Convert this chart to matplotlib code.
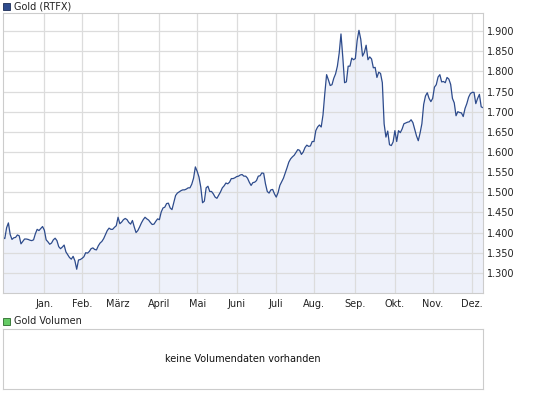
import matplotlib
matplotlib.use("Agg")
import matplotlib.pyplot as plt
from matplotlib.patches import Rectangle
from matplotlib.ticker import FuncFormatter
import numpy as np
import pandas as pd

# Goldpreis in USD, ein Wert pro Handelstag (01.12.2010 - 09.12.2011)
gold = [
    # Dez 2010
    1388, 1385, 1412, 1424, 1395, 1383, 1387, 1388, 1394, 1392, 1372, 1378,
    1384, 1384, 1383, 1381, 1380, 1382, 1397, 1408, 1405, 1410, 1415,
    # Jan
    1406, 1382, 1377, 1371, 1374, 1382, 1386, 1380, 1365, 1360, 1364, 1369,
    1352, 1345, 1338, 1334, 1341, 1330, 1309, 1332, 1333,
    # Feb
    1336, 1340, 1350, 1349, 1353, 1360, 1362, 1358, 1357, 1367, 1374, 1378,
    1385, 1395, 1405, 1411, 1408, 1408, 1413, 1417,
    # Maerz
    1438, 1422, 1426, 1432, 1435, 1432, 1425, 1421, 1430, 1414, 1400, 1405,
    1414, 1424, 1432, 1438, 1434, 1431, 1425, 1420, 1421, 1428, 1434,
    # April
    1432, 1451, 1461, 1463, 1472, 1473, 1461, 1457, 1474, 1492, 1498, 1501,
    1504, 1506, 1506, 1508, 1511, 1511, 1520, 1535, 1563,
    # Mai
    1552, 1538, 1513, 1474, 1478, 1511, 1515, 1502, 1502, 1496, 1488, 1485,
    1493, 1501, 1511, 1516, 1523, 1521, 1525, 1534, 1534, 1536,
    # Juni
    1539, 1540, 1543, 1544, 1540, 1540, 1535, 1525, 1517, 1524, 1525, 1529,
    1540, 1541, 1548, 1547, 1521, 1502, 1498, 1506, 1507, 1496,
    # Juli
    1488, 1499, 1517, 1526, 1535, 1548, 1561, 1575, 1583, 1588, 1592, 1599,
    1606, 1604, 1594, 1600, 1611, 1617, 1614, 1615, 1626,
    # Aug
    1626, 1653, 1662, 1667, 1662, 1692, 1745, 1792, 1779, 1765, 1767, 1783,
    1794, 1813, 1845, 1893, 1836, 1772, 1774, 1813, 1813, 1833, 1829,
    # Sep
    1832, 1877, 1902, 1880, 1838, 1847, 1865, 1829, 1836, 1831, 1809, 1810,
    1785, 1798, 1795, 1772, 1670, 1637, 1652, 1618, 1616, 1625,
    # Okt
    1653, 1626, 1653, 1648, 1657, 1670, 1672, 1674, 1675, 1680, 1673, 1657,
    1640, 1628, 1647, 1670, 1718, 1739, 1747, 1733, 1725,
    # Nov
    1733, 1761, 1767, 1786, 1792, 1774, 1775, 1772, 1785, 1781, 1768, 1733,
    1722, 1690, 1700, 1698, 1697, 1688, 1708, 1720, 1736, 1745,
    # Dez 2011
    1748, 1748, 1720, 1733, 1743, 1712, 1710,
]
dates = pd.bdate_range("2010-12-01", "2011-12-09")
month_labels = ["Jan.", "Feb.", "März", "April", "Mai", "Juni", "Juli",
                "Aug.", "Sep.", "Okt.", "Nov.", "Dez."]
yticks = np.arange(1300, 1901, 50)

x = np.arange(len(gold))
month_start = [i for i in range(1, len(dates)) if dates[i].month != dates[i - 1].month]

W, H = 545, 398
def box(l, t, r, b):
    return [l / W, 1 - b / H, (r - l) / W, (b - t) / H]

fig = plt.figure(figsize=(W / 100, H / 100), dpi=100)
plt.rcParams['font.family'] = ['DejaVu Sans']

line_col = '#2d4b8c'
grid_col = '#dcdcdc'
border_col = '#cccccc'

# Kurschart
ax = fig.add_axes(box(3, 13, 483, 293))
ax.fill_between(x, gold, 1200, color='#eef1fa', lw=0)
ax.plot(x, gold, color=line_col, lw=0.9)
ax.set_xlim(0, len(gold) - 1)
ax.set_ylim(1250, 1945)
ax.set_yticks(yticks)
ax.yaxis.tick_right()
ax.yaxis.set_major_formatter(FuncFormatter(lambda v, p: f"{v:,.0f}".replace(",", ".")))
ax.set_xticks(month_start)
ax.set_xticklabels(month_labels)
ax.tick_params(length=0, labelsize=7, colors='#222222')
ax.tick_params(axis='y', pad=3)
ax.tick_params(axis='x', pad=4)
ax.grid(color=grid_col, lw=0.9)
for s in ax.spines.values():
    s.set_color(border_col)

# Volumen
axv = fig.add_axes(box(3, 329, 483, 389))
axv.set_xticks([])
axv.set_yticks([])
for s in axv.spines.values():
    s.set_color(border_col)
axv.text(0.5, 0.5, "keine Volumendaten vorhanden", transform=axv.transAxes,
         ha='center', va='center', fontsize=7, color='#111111')

# Legenden
fig.add_artist(Rectangle((3 / W, 1 - 10 / H), 7 / W, 7 / H, transform=fig.transFigure,
                         fc='#2e4b8d', ec='#1c2c55', lw=0.6))
fig.text(14 / W, 1 - 6.5 / H, "Gold (RTFX)", va='center', fontsize=7, color='#222222')
fig.add_artist(Rectangle((3 / W, 1 - 325 / H), 7 / W, 7 / H, transform=fig.transFigure,
                         fc='#66cc66', ec='#2a6a2a', lw=0.6))
fig.text(14 / W, 1 - 321.5 / H, "Gold Volumen", va='center', fontsize=7, color='#222222')

fig.savefig("out.png", dpi=100)
